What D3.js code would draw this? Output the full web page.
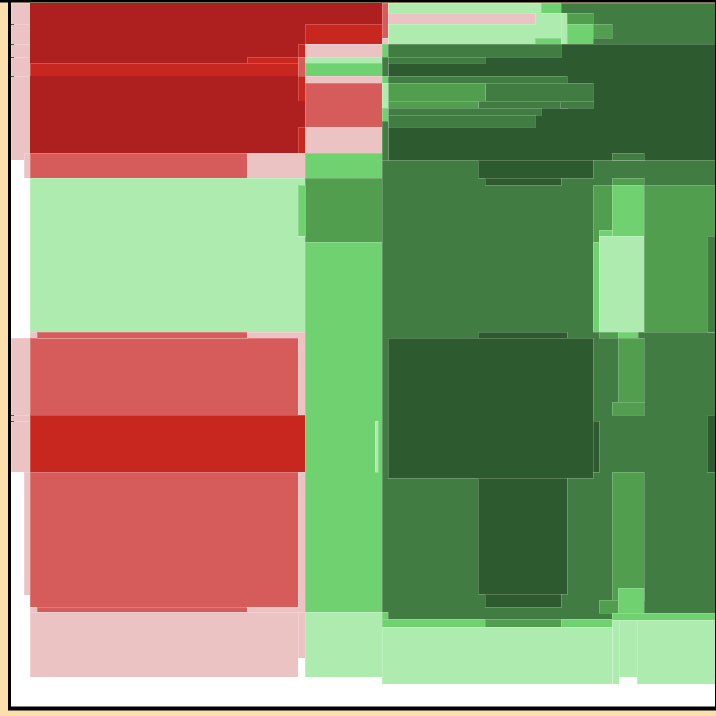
<!DOCTYPE html>
<html><head><meta charset="utf-8">
<script src="https://cdn.jsdelivr.net/npm/d3@7"></script>
<style>html,body{margin:0;padding:0;background:#fddfae;}svg{display:block;}</style>
</head><body>
<svg id="c" width="716" height="716"></svg>
<script>
// colour categories
const palette = {
  DR: "#ae2020", R: "#c7271f", MR: "#d65b5b", PK: "#ebc3c3",
  DG: "#2d5a2e", G3: "#417d43", G2: "#519e4f", LG: "#6fd16f", PG: "#aeebae"
};
const unstroked = ["DR"];
// tick values on the left axis
const yTicks = [24, 44, 57, 76, 415, 421];

// [x0, y0, x1, y1, category] in chart units
const leftStrip = [
  [11,3,30,24,"PK"],[11,24,30,44,"PK"],[11,44,30,57,"PK"],[11,57,30,76,"PK"],[11,76,30,160,"PK"],
  [24,160,30,178,"PK"],
  [11,338,30,415,"PK"],[11,415,30,421,"PK"],[11,421,30,472,"PK"],
  [24,472,30,595,"PK"]
];
const redTop = [
  [30,3,382,24,"DR"],
  [30,24,305,63,"DR"],
  [247,57,298,76,"R"],
  [30,63,298,76,"R"],
  [298,44,305,101,"R"],
  [298,57,305,76,"MR"],
  [30,76,298,153,"DR"],
  [298,101,305,127,"DR"],
  [298,127,305,153,"R"],
  [305,24,382,44,"R"],
  [305,44,382,57,"PK"],
  [305,57,382,63,"PG"],
  [305,63,382,76,"LG"],
  [305,76,382,83,"PK"],
  [305,83,382,127,"MR"],
  [305,127,382,153,"PK"],
  [24,153,305,178,"PK"],
  [30,153,247,178,"MR"]
];
const redLow = [
  [30,178,305,332,"PG"],
  [30,332,305,415,"PK"],
  [30,338,298,415,"MR"],
  [37,332,247,338,"MR"],
  [30,415,305,472,"R"],
  [30,472,305,612,"PK"],
  [30,472,298,607,"MR"],
  [37,607,247,612,"MR"],
  [30,612,298,677,"PK"],
  [298,612,305,658,"PK"]
];
const midColumn = [
  [305,153,382,178,"LG"],
  [305,178,382,242,"G2"],
  [298,185,305,236,"LG"],
  [305,242,382,612,"LG"],
  [375,421,378,472,"PG"],
  [305,612,382,677,"PG"]
];
const greenTop = [
  [388,3,561,44,"PG"],
  [388,13,535,24,"PK"],
  [541,3,561,13,"LG"],
  [535,38,567,44,"LG"],
  [561,3,716,44,"G3"],
  [561,13,567,44,"PG"],
  [567,13,593,24,"G2"],
  [567,24,593,44,"LG"],
  [593,24,612,38,"G2"],
  [382,3,388,38,"MR"],
  [382,38,388,44,"PK"]
];
const greenBody = [
  [382,44,716,619,"G3"],
  [388,44,716,160,"DG"],
  [382,44,561,57,"G3"],
  [382,57,485,63,"G3"],
  [382,76,567,83,"G3"],
  [485,83,593,101,"G3"],
  [388,83,485,101,"G2"],
  [478,101,567,108,"G3"],
  [560,101,593,108,"G3"],
  [388,101,478,108,"G2"],
  [388,108,541,115,"G3"],
  [388,115,535,127,"G3"],
  [382,44,388,57,"LG"],
  [382,57,388,76,"G3"],
  [382,76,388,83,"LG"],
  [382,83,388,108,"PG"],
  [382,108,388,121,"LG"],
  [382,121,388,160,"G3"],
  [478,160,593,178,"DG"],
  [485,178,561,185,"DG"],
  [612,153,644,160,"G3"],
  [612,178,644,185,"G2"],
  [593,185,612,242,"G2"],
  [612,185,644,236,"LG"],
  [599,230,612,242,"LG"],
  [593,242,599,332,"LG"],
  [599,236,644,332,"PG"],
  [644,185,716,332,"G2"],
  [707,236,716,332,"G3"]
];
const greenLow = [
  [478,332,567,338,"DG"],
  [388,338,593,478,"DG"],
  [593,421,599,472,"DG"],
  [478,478,567,594,"DG"],
  [485,594,561,607,"DG"],
  [599,332,618,338,"G2"],
  [618,332,638,338,"LG"],
  [618,338,644,402,"G2"],
  [612,402,644,415,"G2"],
  [707,415,716,472,"DG"],
  [612,472,644,600,"G2"],
  [599,600,618,613,"G2"],
  [618,588,644,613,"LG"],
  [382,612,388,619,"LG"],
  [382,619,485,627,"LG"],
  [485,619,561,627,"G2"],
  [561,619,612,627,"LG"],
  [612,613,716,620,"LG"],
  [612,620,619,684,"PG"],
  [619,620,637,677,"PG"],
  [637,620,716,684,"PG"],
  [382,627,612,684,"PG"]
];

const svg = d3.select("#c");
const x = d3.scaleLinear().domain([11, 716]).range([11, 716]);
const y = d3.scaleLinear().domain([3, 708]).range([3, 708]);

// plot background
svg.append("rect").attr("x", x(11)).attr("y", y(3)).attr("width", x(716)-x(11)).attr("height", y(708)-y(3)).attr("fill", "#fff");

const all = [].concat(leftStrip, redTop, redLow, midColumn, greenTop, greenBody, greenLow);
svg.append("g").selectAll("rect").data(all).join("rect")
  .attr("x", d => x(d[0])).attr("y", d => y(d[1]))
  .attr("width", d => x(d[2]) - x(d[0])).attr("height", d => y(d[3]) - y(d[1]))
  .attr("fill", d => palette[d[4]])
  .attr("stroke", d => unstroked.includes(d[4]) ? "none" : "rgba(255,255,255,0.2)")
  .attr("stroke-width", 1)
  .attr("shape-rendering", "crispEdges");

// frame / axes
svg.append("line").attr("x1", 0).attr("x2", 716).attr("y1", 1).attr("y2", 1).attr("stroke", "#000").attr("stroke-width", 3);
svg.append("line").attr("x1", 9.5).attr("x2", 9.5).attr("y1", 0).attr("y2", 710).attr("stroke", "#000").attr("stroke-width", 3);
svg.append("line").attr("x1", 8).attr("x2", 716).attr("y1", 708.5).attr("y2", 708.5).attr("stroke", "#000").attr("stroke-width", 4);
svg.append("line").attr("x1", 715.5).attr("x2", 715.5).attr("y1", 0).attr("y2", 710).attr("stroke", "#000").attr("stroke-width", 1);

const ax = svg.append("g").attr("transform", "translate(11,0)")
  .call(d3.axisLeft(y).tickValues(yTicks).tickSize(-3).tickFormat(""));
ax.select(".domain").remove();
ax.selectAll(".tick line").attr("stroke", "#555");
</script>
</body></html>
